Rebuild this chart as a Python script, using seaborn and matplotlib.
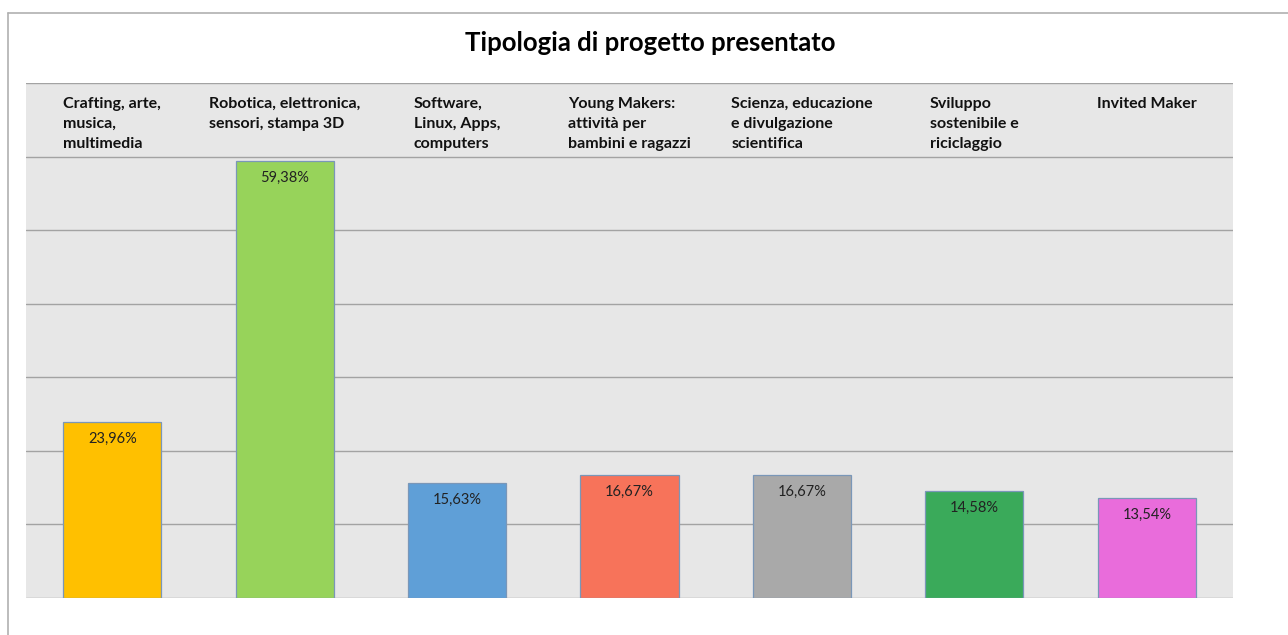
import matplotlib
matplotlib.use("Agg")
import matplotlib.pyplot as plt
import seaborn as sns
import pandas as pd
from matplotlib.lines import Line2D

# data
categories = [
    "Crafting, arte,\nmusica,\nmultimedia",
    "Robotica, elettronica,\nsensori, stampa 3D",
    "Software,\nLinux, Apps,\ncomputers",
    "Young Makers:\nattività per\nbambini e ragazzi",
    "Scienza, educazione\ne divulgazione\nscientifica",
    "Sviluppo\nsostenibile e\nriciclaggio",
    "Invited Maker",
]
values = [23.96, 59.38, 15.63, 16.67, 16.67, 14.58, 13.54]
colors = ["#FFC000", "#97D35A", "#5F9FD7", "#F7735A", "#A9A9A9", "#3AAA5A", "#E96CDB"]
title = "Tipologia di progetto presentato"

df = pd.DataFrame({"categoria": categories, "valore": values})

sns.set_style("white")
plt.rcParams["font.family"] = ["Lato", "DejaVu Sans"]

fig = plt.figure(figsize=(12.88, 6.35), dpi=100)
ax = fig.add_axes([26 / 1288, 1 - 598 / 635, (1233 - 26) / 1288, (598 - 83) / 635])
ax.set_facecolor("#E7E7E7")

sns.barplot(data=df, x="categoria", y="valore", hue="categoria", palette=colors,
            saturation=1, width=0.57, edgecolor="#7A97B8", linewidth=0.9,
            legend=False, ax=ax, zorder=3)

ax.set_ylim(0, 70)
ax.set_xlim(-0.5, len(categories) - 0.5)
for y in range(0, 71, 10):
    ax.axhline(y, color="#A3A3A3", linewidth=1.0, zorder=1)

for s in ax.spines.values():
    s.set_visible(False)
ax.set_xticks([])
ax.set_yticks([])
ax.set_xlabel("")
ax.set_ylabel("")

# value labels inside the bars
for i, v in enumerate(values):
    ax.annotate(f"{v:.2f}%".replace(".", ","), (i, v), xytext=(0, -7),
                textcoords="offset points", ha="center", va="top",
                fontsize=10.5, color="#222222", zorder=5)

# category labels in the top band
for i, c in enumerate(categories):
    ax.text(i, 68.1, c, ha="center", va="top", multialignment="left",
            fontsize=11.5, fontweight="bold", color="#111111", linespacing=1.55, zorder=5)

fig.text(0.505, 1 - 43 / 635, title, ha="center", va="center",
         fontsize=18.5, fontweight="bold", color="#000000")

# outer frame
fig.add_artist(Line2D([7.5 / 1288, 1], [1 - 12.5 / 635, 1 - 12.5 / 635],
                      transform=fig.transFigure, color="#B0B0B0", linewidth=1.2))
fig.add_artist(Line2D([7.5 / 1288, 7.5 / 1288], [0, 1 - 12.5 / 635],
                      transform=fig.transFigure, color="#B0B0B0", linewidth=1.2))

fig.savefig("out.png", dpi=100, facecolor="white")
